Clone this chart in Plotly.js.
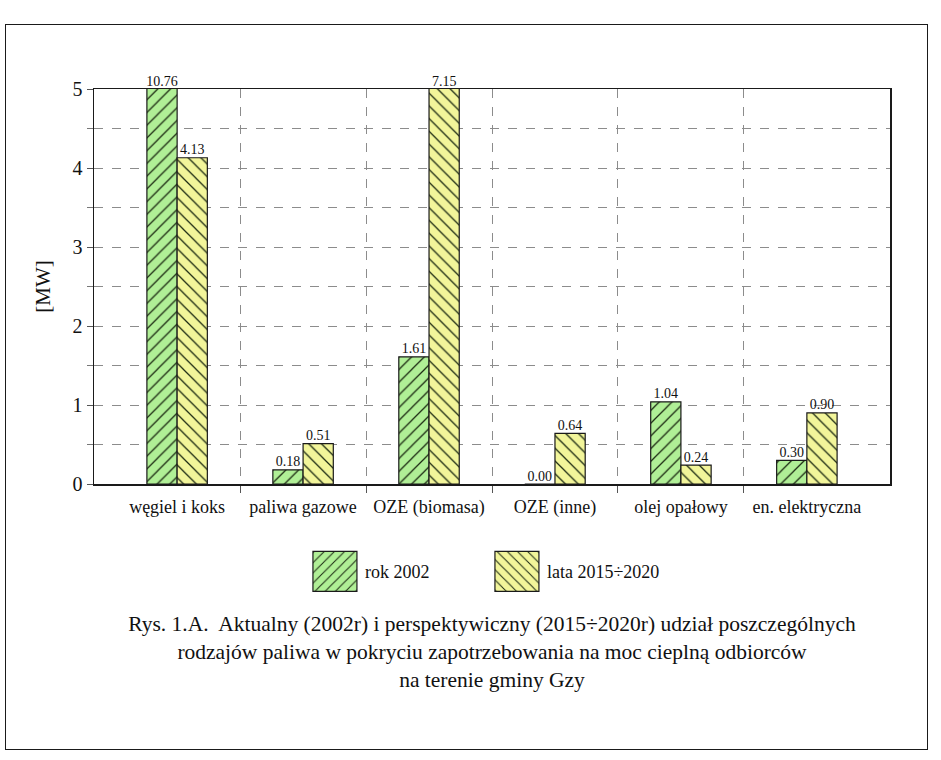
<!DOCTYPE html>
<html>
<head>
<meta charset="utf-8">
<script src="https://cdn.plot.ly/plotly-3.0.1.min.js"></script>
<style>
  html, body { margin: 0; padding: 0; background: #fff; }
  #wrap { position: relative; width: 941px; height: 760px; }
  #chart { position: absolute; left: 0; top: 0; width: 941px; height: 760px; }
  #frame { position: absolute; left: 5px; top: 24px; width: 921px; height: 724px;
           border: 1.5px solid #1a1a1a; pointer-events: none; }
</style>
</head>
<body>
<div id="wrap">
  <div id="chart"></div>
  <div id="frame"></div>
</div>
<script>
// Fuel categories and heat-demand coverage [MW]
const categories = ['węgiel i koks', 'paliwa gazowe', 'OZE (biomasa)', 'OZE (inne)', 'olej opałowy', 'en. elektryczna'];
const rok2002 = [10.76, 0.18, 1.61, 0.00, 1.04, 0.30];
const lata2015_2020 = [4.13, 0.51, 7.15, 0.64, 0.24, 0.90];
const seriesNames = ['rok 2002', 'lata 2015÷2020'];
const yTickVals = [0, 1, 2, 3, 4, 5];

const yMax = 5;
const barW = 0.24;
const serif = '"Liberation Serif", "DejaVu Serif", serif';
const idx = categories.map((_, i) => i);

const fills = ['#b0ef96', '#f2f59a'];
const hatch = ['/', '\\'];
const series = [rok2002, lata2015_2020];
const offsets = [-barW / 2, barW / 2];

const traces = [];
series.forEach((vals, s) => {
  traces.push({
    type: 'bar',
    name: seriesNames[s],
    x: idx.map(i => i + offsets[s]),
    y: vals,
    width: barW,
    marker: {
      color: fills[s],
      line: { color: '#1a1a1a', width: 1.2 },
      pattern: { shape: hatch[s], fgcolor: '#1c2a12', bgcolor: fills[s], size: 9, solidity: 0.14 }
    },
    hoverinfo: 'skip'
  });
});
// value labels, kept at the top of the visible range for bars that exceed it
series.forEach((vals, s) => {
  traces.push({
    type: 'scatter',
    mode: 'text',
    x: idx.map(i => i + offsets[s]),
    y: vals.map(v => Math.min(v, yMax)),
    text: vals.map(v => v.toFixed(2)),
    textposition: 'top center',
    textfont: { family: serif, size: 14, color: '#111' },
    cliponaxis: false,
    showlegend: false,
    hoverinfo: 'skip'
  });
});

const layout = {
  width: 941,
  height: 760,
  margin: { l: 94, r: 51, t: 89, b: 276 },
  paper_bgcolor: '#fff',
  plot_bgcolor: '#fff',
  barmode: 'overlay',
  font: { family: serif, color: '#111' },
  showlegend: true,
  legend: {
    orientation: 'h',
    x: 0.265, xanchor: 'left',
    y: -0.175, yanchor: 'top',
    font: { family: serif, size: 18, color: '#111' },
    itemwidth: 50,
    entrywidth: 117,
    bgcolor: 'rgba(0,0,0,0)',
    borderwidth: 0
  },
  title: {
    text: 'Rys. 1.A.  Aktualny (2002r) i perspektywiczny (2015÷2020r) udział poszczególnych<br>rodzajów paliwa w pokryciu zapotrzebowania na moc cieplną odbiorców<br>na terenie gminy Gzy',
    font: { family: serif, size: 21.5, color: '#111' },
    x: 0.5, xref: 'paper', xanchor: 'center',
    y: 0.17, yref: 'container', yanchor: 'top'
  },
  xaxis: {
    type: 'linear',
    range: [-0.66, categories.length - 1 + 0.66],
    tickmode: 'array',
    tickvals: idx,
    ticktext: categories,
    ticks: '',
    ticklabelstandoff: 6,
    tickfont: { family: serif, size: 18, color: '#111' },
    showgrid: false,
    zeroline: false,
    showline: true, mirror: true, linecolor: '#1a1a1a', linewidth: 1.5,
    minor: {
      tickmode: 'array',
      tickvals: idx.slice(1).map(i => i - 0.5),
      ticks: 'outside', ticklen: 7, tickcolor: '#555',
      showgrid: true, gridcolor: '#8c8c8c', griddash: 'dash', gridwidth: 1
    }
  },
  yaxis: {
    range: [0, yMax],
    tickmode: 'array',
    tickvals: yTickVals,
    ticks: 'outside', ticklen: 6, tickcolor: '#555',
    tickfont: { family: serif, size: 20, color: '#111' },
    showgrid: true, gridcolor: '#8c8c8c', griddash: 'dash', gridwidth: 1,
    zeroline: false,
    showline: true, mirror: true, linecolor: '#1a1a1a', linewidth: 1.5,
    minor: {
      dtick: 0.5,
      ticks: 'outside', ticklen: 6, tickcolor: '#777',
      showgrid: true, gridcolor: '#8c8c8c', griddash: 'dash', gridwidth: 1
    },
    title: { text: '[MW]', font: { family: serif, size: 21, color: '#111' }, standoff: 16 }
  }
};

Plotly.newPlot('chart', traces, layout, { staticPlot: true, displayModeBar: false }).then(gd => {
  // larger legend swatches
  gd.querySelectorAll('.legend .legendpoints path').forEach(p => p.setAttribute('d', 'M22,20H-22V-20H22Z'));
  const sb = gd.querySelector('.legend .scrollbox');
  if (sb) sb.removeAttribute('clip-path');
});
</script>
</body>
</html>
